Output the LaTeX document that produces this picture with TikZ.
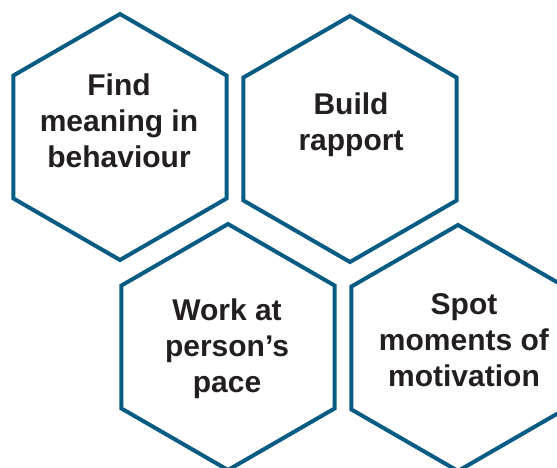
\documentclass[tikz,border=0pt]{standalone}
\usepackage{fontspec}
\setmainfont{Liberation Sans}
\usepackage{tikz}
\usetikzlibrary{positioning,shapes.geometric}
\definecolor{accent}{RGB}{8,92,132}
\definecolor{ink}{RGB}{35,31,32}

\begin{document}
\begin{tikzpicture}[
  x = 1pt,
  y = -1pt,
  hexa/.style = {
    draw = accent,
    line width = 4pt,
    regular polygon,
    regular polygon sides = 6,
    shape border rotate = 30,
    minimum size = 246pt,
    inner sep = 0pt,
    outer sep = 0pt,
  },
  word/.style = {
    text = ink,
    align = center,
    font = \fontsize{30}{36}\selectfont\bfseries,
    inner sep = 0pt,
  },
]

  \useasboundingbox (0,0) rectangle (557,468);

  \node[hexa] (meaning) at (120,137) {};
  \node[hexa] (rapport) at (350,139) {};
  \node[hexa] (pace) at (228,347) {};
  \node[hexa] (motivation) at (458,348) {};

  \node[word] (meaningtext) at (119,121) {Find\\meaning in\\behaviour};
  \node[word] (rapporttext) at (351,125) {Build\\rapport};
  \node[word] (pacetext) at (227,349) {Work at\\person’s\\pace};
  \node[word] (motivationtext) at (464,340) {Spot\\moments of\\motivation};
\end{tikzpicture}
\end{document}
